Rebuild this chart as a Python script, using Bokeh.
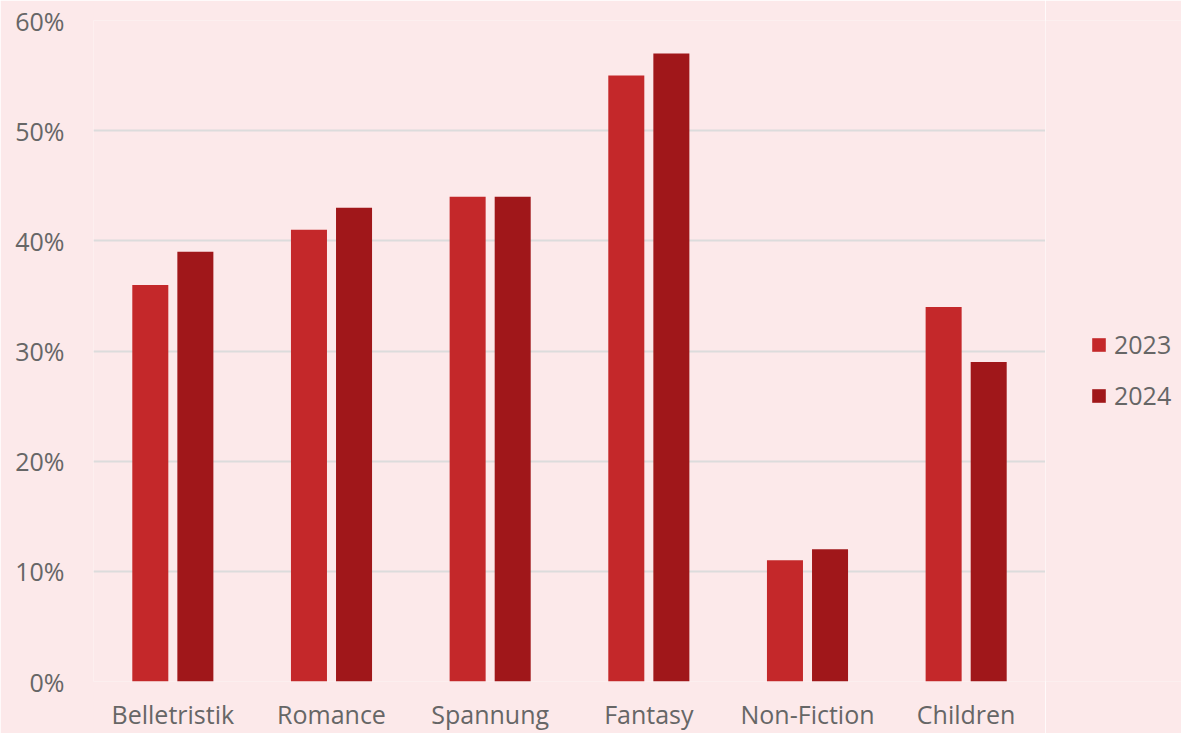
from bokeh.plotting import figure
from bokeh.layouts import row
from bokeh.models import ColumnDataSource, Legend, LegendItem, NumeralTickFormatter, FixedTicker
from bokeh.transform import dodge
from bokeh.embed import file_html
from bokeh.resources import INLINE

categories = ["Belletristik", "Romance", "Spannung", "Fantasy", "Non-Fiction", "Children"]
share_2023 = [0.36, 0.41, 0.44, 0.55, 0.11, 0.34]
share_2024 = [0.39, 0.43, 0.44, 0.57, 0.12, 0.29]
y_ticks = [0.0, 0.1, 0.2, 0.3, 0.4, 0.5, 0.6]
series_names = ["2023", "2024"]
series_colors = ["#c4282a", "#a0171a"]

BG = "#fce9ea"
TEXT = "#666666"
FONT = "Open Sans"

source = ColumnDataSource(dict(cat=categories, y2023=share_2023, y2024=share_2024))

# Main bar chart
p = figure(
    x_range=categories, y_range=(0, 0.6),
    width=1045, height=733,
    output_backend="svg", toolbar_location=None,
    background_fill_color=BG, background_fill_alpha=1.0,
    border_fill_color=BG, border_fill_alpha=1.0,
    min_border_left=93, min_border_top=20, min_border_bottom=50, min_border_right=0,
)
p.outline_line_color = None

p.vbar(x=dodge("cat", -0.142, range=p.x_range), top="y2023", width=0.227,
       source=source, color=series_colors[0], line_color=None)
p.vbar(x=dodge("cat", 0.142, range=p.x_range), top="y2024", width=0.227,
       source=source, color=series_colors[1], line_color=None)

p.xgrid.grid_line_color = None
p.ygrid.grid_line_color = "#dcdcdc"
p.ygrid.grid_line_width = 2

p.yaxis.ticker = FixedTicker(ticks=y_ticks)
p.yaxis.formatter = NumeralTickFormatter(format="0%")
for ax in (p.xaxis[0], p.yaxis[0]):
    ax.axis_line_color = None
    ax.major_tick_line_color = None
    ax.minor_tick_line_color = None
    ax.major_tick_out = 0
    ax.major_tick_in = 0
    ax.minor_tick_out = 0
    ax.major_label_text_color = TEXT
    ax.major_label_text_font = FONT
    ax.major_label_text_font_size = "25px"
p.yaxis.major_label_standoff = 29
p.xaxis.major_label_standoff = 15

# Legend panel on the right
lp = figure(
    width=136, height=733,
    x_range=(0, 1), y_range=(0, 1),
    x_axis_location=None, y_axis_location=None,
    output_backend="svg", toolbar_location=None,
    background_fill_color=BG, background_fill_alpha=1.0,
    border_fill_color=BG, border_fill_alpha=1.0,
    min_border=0,
)
lp.outline_line_color = None
lp.grid.visible = False

items = []
for name, col in zip(series_names, series_colors):
    # a single bar outside the visible range, only to carry the legend swatch
    r = lp.vbar(x=[10], top=[10], width=0.1, color=col, line_color=None)
    items.append(LegendItem(label=name, renderers=[r]))

legend = Legend(
    items=items,
    location=(45, 269),
    background_fill_alpha=0, border_line_color=None,
    label_text_font=FONT, label_text_font_size="25px", label_text_color=TEXT,
    glyph_width=17, glyph_height=17, label_height=26, spacing=17, label_standoff=7,
    margin=0, padding=0,
)
lp.add_layout(legend)

layout = row(p, lp, spacing=0)
open("out.html", "w").write(file_html(layout, INLINE))
